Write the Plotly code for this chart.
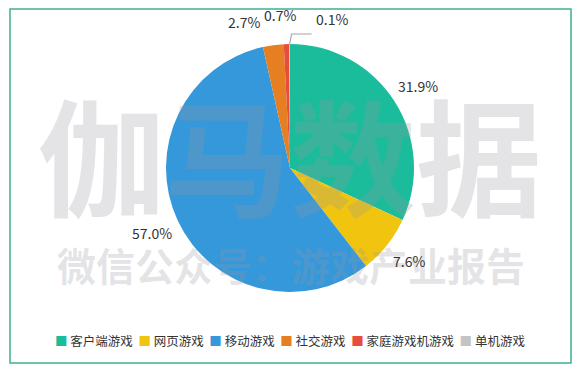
import math
import plotly.graph_objects as go

W, H = 584, 375

categories = ["客户端游戏", "网页游戏", "移动游戏", "社交游戏", "家庭游戏机游戏", "单机游戏"]
shares = [31.9, 7.6, 57.0, 2.7, 0.7, 0.1]
colors = ["#1ABC9C", "#F1C40F", "#3498DB", "#E67E22", "#E74C3C", "#C4C4C4"]
watermark_main = "伽马数据"
watermark_sub = "微信公众号：游戏产业报告"

FONT = "Noto Sans CJK SC, Microsoft YaHei, sans-serif"

# pie placement (pixels)
cx, cy, d = 290, 168, 248
r = d / 2
label_gap = 28
# per-label nudges (pixels) for the crowded small slices at the top
label_nudge = [(0, 0), (0, -2), (0, 0), (-26, 5), (-6, -1), (42, 3)]


def px_x(x):
    return x / W


def px_y(y):
    return 1 - y / H


fig = go.Figure()
fig.add_trace(go.Pie(
    labels=categories,
    values=shares,
    sort=False,
    direction="clockwise",
    rotation=0,
    marker=dict(colors=colors, line=dict(width=0)),
    textinfo="none",
    hoverinfo="label+value",
    showlegend=False,
    domain=dict(x=[px_x(cx - r), px_x(cx + r)],
                y=[px_y(cy + r), px_y(cy - r)]),
))

# watermark (semi-transparent, sits over the pie like the reference)
wm_color = "rgba(150,150,160,0.26)"
fig.add_annotation(text=watermark_main, x=px_x(290), y=px_y(152), xref="paper", yref="paper",
                   xanchor="center", yanchor="middle",
                   showarrow=False, font=dict(family=FONT, size=126, color=wm_color, weight=700))
fig.add_annotation(text=watermark_sub, x=px_x(291), y=px_y(264), xref="paper", yref="paper",
                   xanchor="center", yanchor="middle",
                   showarrow=False, font=dict(family=FONT, size=39, color=wm_color, weight=700))

# data labels placed outside each slice at its mid angle
total = sum(shares)
cum = 0.0
for i, v in enumerate(shares):
    mid = (cum + v / 2) / total * 2 * math.pi
    cum += v
    dist = r + label_gap
    lx = cx + dist * math.sin(mid) + label_nudge[i][0]
    ly = cy - dist * math.cos(mid) + label_nudge[i][1]
    fig.add_annotation(text=f"{v:.1f}%", x=px_x(lx), y=px_y(ly), xref="paper", yref="paper",
                       xanchor="center", yanchor="middle",
                       showarrow=False, font=dict(family=FONT, size=14, color="#333333"))

# leader line for the last (tiny) slice
last_ang = (total - shares[-1] / 2) / total * 2 * math.pi
sx = cx + r * math.sin(last_ang)
sy = cy - r * math.cos(last_ang)
fig.add_shape(type="path", xref="paper", yref="paper",
              path=f"M {px_x(sx)} {px_y(sy)} L {px_x(sx + 2)} {px_y(sy - 10)} L {px_x(sx + 22)} {px_y(sy - 10)}",
              line=dict(color="#A6A6A6", width=1.2))

# legend row built from categories/colors
parts = []
for c, col in zip(categories, colors):
    parts.append(f'<span style="color:{col}">■</span> {c}')
legend_text = "  ".join(parts)
fig.add_annotation(text=legend_text, x=px_x(290), y=px_y(340), xref="paper", yref="paper",
                   xanchor="center", yanchor="middle",
                   showarrow=False, font=dict(family=FONT, size=12.5, color="#333333"))

# border frame
fig.add_shape(type="rect", xref="paper", yref="paper",
              x0=px_x(10), x1=px_x(571), y0=px_y(363), y1=px_y(9),
              line=dict(color="#3FB092", width=1.5), fillcolor="rgba(0,0,0,0)", layer="below")

fig.update_layout(
    width=W, height=H,
    margin=dict(l=0, r=0, t=0, b=0, autoexpand=False),
    paper_bgcolor="white",
    plot_bgcolor="white",
    showlegend=False,
)

fig.write_html("out.html", config={"displayModeBar": False},
               post_script="document.body.style.margin='0px';")
